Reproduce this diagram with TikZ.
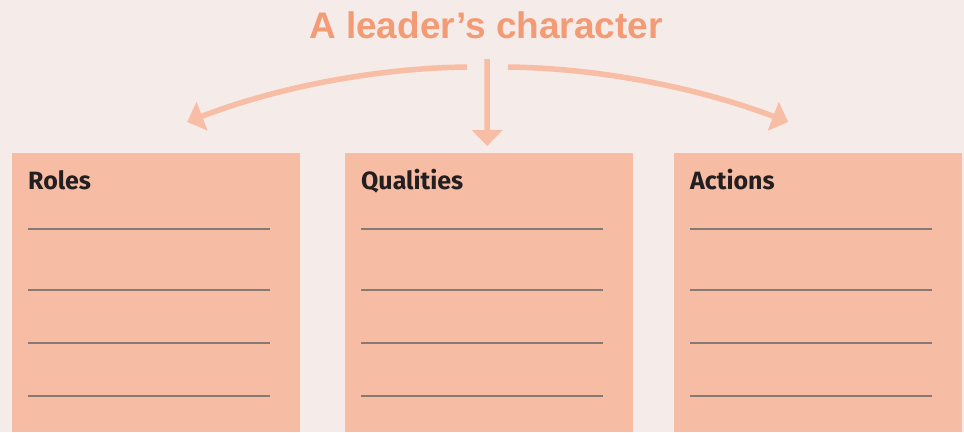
\documentclass[tikz,border=0pt]{standalone}
\usepackage{fontspec}
\setmainfont{Liberation Sans}
\newfontfamily\boxfont{Fira Sans}
\usetikzlibrary{arrows.meta,positioning}
\definecolor{bgpink}{RGB}{245,235,232}
\definecolor{boxpeach}{RGB}{247,188,164}
\definecolor{titlecoral}{RGB}{243,155,117}
\definecolor{arrowpeach}{RGB}{247,190,165}
\definecolor{rulegray}{RGB}{135,122,116}
\definecolor{labeldark}{RGB}{35,31,32}

\begin{document}
\begin{tikzpicture}[x=1pt,y=-1pt,
    box/.style={fill=boxpeach,minimum width=288pt,minimum height=279pt,anchor=north west,inner sep=0pt},
    boxlabel/.style={anchor=base west,inner sep=0pt,text=labeldark,font=\boxfont\bfseries\fontsize{25}{30}\selectfont},
    rule/.style={draw=rulegray,line width=1.4pt},
    arr/.style={draw=arrowpeach,line width=5.5pt,-{Triangle[width=30pt,length=16pt]}}]
    \fill[bgpink] (0,0) rectangle (964,432);
    \useasboundingbox (0,0) rectangle (964,432);
    \node[anchor=base,inner sep=0pt,text=titlecoral,font=\bfseries\fontsize{37}{44}\selectfont] (title) at (486,38) {A leader’s character};
    \node[box] (roles) at (12,153) {};
    \node[box] (qualities) at (345,153) {};
    \node[box] (actions) at (674,153) {};
    \foreach \b/\t in {roles/Roles,qualities/Qualities,actions/Actions}{
      \node[boxlabel] (\b-label) at ([xshift=16pt,yshift=-36pt]\b.north west) {\t};
      \foreach \y in {76,137,190,243}
        \draw[rule] ([xshift=16pt,yshift=-\y pt]\b.north west) -- ++(242,0);
    }
    \draw[arr] ([xshift=-19pt,yshift=-29pt]title.base) .. controls (380,68) and (280,86) .. ([xshift=31pt,yshift=31pt]roles.north);
    \draw[arr] ([xshift=22pt,yshift=-29pt]title.base) .. controls (594,68) and (694,86) .. ([xshift=-30pt,yshift=31pt]actions.north);
    \draw[arr] ([xshift=1pt,yshift=-21pt]title.base) -- ([xshift=-2pt,yshift=7pt]qualities.north);
  \end{tikzpicture}
\end{document}
